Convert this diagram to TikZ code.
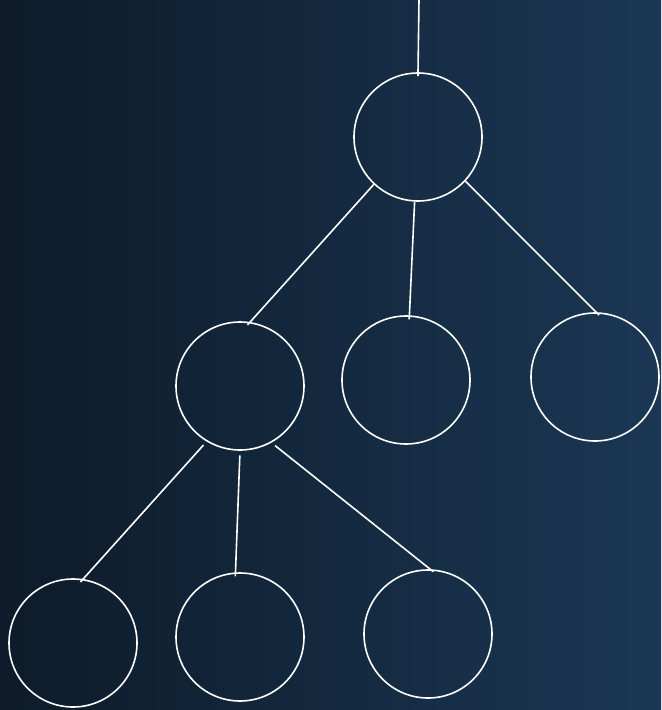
\documentclass[tikz,border=0pt]{standalone}
\usepackage{tikz}
\usetikzlibrary{calc}

\definecolor{bgdark}{HTML}{0D1B2A}
\definecolor{bglight}{HTML}{1B3754}

\tikzset{
  vertex/.style={circle,draw=white,line width=1.2pt,minimum size=96pt,inner sep=0pt},
  link/.style={draw=white,line width=1.2pt,shorten >=-3pt}
}

\begin{document}
\begin{tikzpicture}[x=0.75pt,y=-0.75pt]
  \fill[left color=bgdark,right color=bglight] (0,0) rectangle (661,710);
  \useasboundingbox (0,0) rectangle (661,710);
  % level 0
  \coordinate (stem) at (419,0);
  \node[vertex] (root) at (418,137) {};
  % level 1
  \node[vertex] (left) at (240,386) {};
  \node[vertex] (mid) at (406,380) {};
  \node[vertex] (right) at (595,377) {};
  % level 2
  \node[vertex] (leftA) at (73,643) {};
  \node[vertex] (leftB) at (240,637) {};
  \node[vertex] (leftC) at (428,634) {};
  % edges
  \draw[link] (stem) -- (root.north);
  \draw[link] (root.227) -- (left.81);
  \draw[link] (root.267) -- (mid.87);
  \draw[link] (root.317) -- (right.89);
  \draw[link,shorten <=3.5pt] (left.239) -- (leftA.81);
  \draw[link,shorten <=3.5pt] (left.270) -- (leftB.94);
  \draw[link,shorten <=3.5pt] (left.299) -- (leftC.88);
\end{tikzpicture}
\end{document}
